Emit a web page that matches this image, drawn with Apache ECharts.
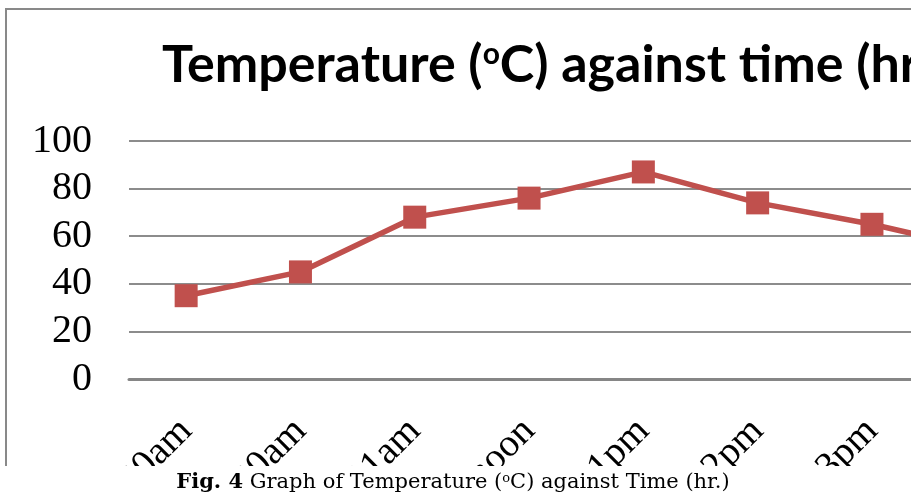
<!DOCTYPE html>
<html>
<head>
<meta charset="utf-8">
<script src="https://cdn.jsdelivr.net/npm/echarts@6/dist/echarts.min.js"></script>
<style>
  html, body { margin: 0; padding: 0; width: 911px; height: 499px; overflow: hidden; background: #fff; }
  #chart { position: absolute; left: 0; top: 0; width: 1100px; height: 499px; }
</style>
</head>
<body>
<div id="chart"></div>
<script>
const categories = ['9:30am', '10:30am', '11am', '12noon', '1pm', '2pm', '3pm', '4pm'];
const temperature = [35, 45, 68, 76, 87, 74, 65, 54];
const yMin = 0, yMax = 100, yStep = 20;

const chart = echarts.init(document.getElementById('chart'), null, { renderer: 'canvas' });
chart.setOption({
  animation: false,
  backgroundColor: '#ffffff',
  grid: { left: 129, right: 56.6, top: 141, bottom: 120, containLabel: false, outerBoundsMode: 'none' },
  xAxis: {
    type: 'category',
    data: categories,
    boundaryGap: true,
    axisLine: { show: true, lineStyle: { color: '#868686', width: 3 } },
    axisTick: { show: false },
    axisLabel: {
      interval: 0, rotate: 45, margin: 46,
      fontFamily: 'Liberation Serif', fontSize: 39, color: '#000'
    },
    splitLine: { show: false }
  },
  yAxis: {
    type: 'value', min: yMin, max: yMax, interval: yStep,
    axisLine: { show: false },
    axisTick: { show: false },
    axisLabel: { margin: 37, fontFamily: 'Liberation Serif', fontSize: 40, color: '#000' },
    splitLine: { show: true, lineStyle: { color: '#8c8c8c', width: 2 } }
  },
  series: [{
    type: 'line',
    data: temperature,
    symbol: 'rect',
    symbolSize: 23,
    lineStyle: { color: '#C0504D', width: 5.5 },
    itemStyle: { color: '#C0504D' },
    z: 5
  }],
  graphic: [
    { type: 'rect', z: -1, shape: { x: 6, y: 9, width: 1080, height: 520 },
      style: { fill: 'none', stroke: '#898989', lineWidth: 2 } },
    { type: 'text', z: 10, left: 162, top: 39,
      style: {
        text: '{a|Temperature (}{s|o}{a|C) against time (hr.)}',
        rich: {
          a: { fontFamily: 'Lato', fontWeight: 'bold', fontSize: 52, fill: '#000' },
          s: { fontFamily: 'Lato', fontWeight: 'bold', fontSize: 30, fill: '#000', verticalAlign: 'top' }
        }
      } },
    { type: 'rect', z: 100, shape: { x: 0, y: 466, width: 1100, height: 40 },
      style: { fill: '#ffffff' } },
    { type: 'text', z: 101, x: 453, y: 483,
      style: {
        text: '{b|Fig. 4}{n| Graph of Temperature (}{s|o}{n|C) against Time (hr.)}',
        align: 'center', verticalAlign: 'middle',
        rich: {
          b: { fontFamily: 'DejaVu Serif', fontWeight: 'bold', fontSize: 21, fill: '#000' },
          n: { fontFamily: 'DejaVu Serif', fontSize: 21, fill: '#000' },
          s: { fontFamily: 'DejaVu Serif', fontSize: 13, fill: '#000', verticalAlign: 'top' }
        }
      } }
  ]
});
</script>
</body>
</html>
